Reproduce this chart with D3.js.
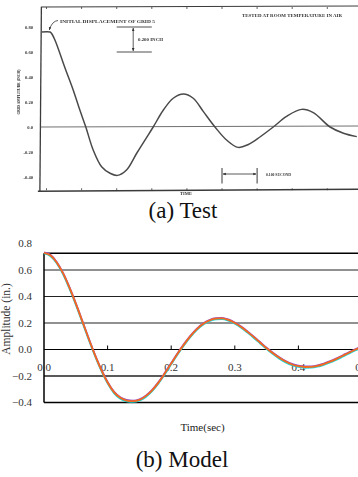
<!DOCTYPE html>
<html>
<head>
<meta charset="utf-8">
<script src="https://cdn.jsdelivr.net/npm/d3@7"></script>
<style>
  html, body { margin: 0; padding: 0; background: #fff; overflow: hidden; }
</style>
</head>
<body>
<script>
// ---- (a) Test: scanned record ----
const testTime = [-0.014, 0.010, 0.014, 0.024, 0.053, 0.076, 0.095, 0.112, 0.133, 0.157,
  0.181, 0.202, 0.228, 0.257, 0.285, 0.304, 0.333, 0.361, 0.390, 0.418,
  0.447, 0.480, 0.513, 0.546, 0.575, 0.608, 0.646, 0.684, 0.727, 0.760,
  0.808, 0.846, 0.884];
const testAmp = [0.760, 0.760, 0.750, 0.696, 0.470, 0.296, 0.136, 0.000, -0.184, -0.318,
  -0.370, -0.387, -0.344, -0.210, -0.085, 0.000, 0.136, 0.230, 0.264, 0.230,
  0.123, 0.000, -0.104, -0.163, -0.140, -0.080, 0.000, 0.085, 0.141, 0.115,
  0.000, -0.050, -0.077];
const testYTicks = [0.8, 0.6, 0.4, 0.2, 0, -0.2, -0.4];
const testYLabels = ['0.80', '0.60', '0.40', '0.20', '0.0', '-0.20', '-0.40'];
const testXTicks = [0, 0.1, 0.2, 0.3, 0.4, 0.5, 0.6, 0.7, 0.8, 0.9];
const inchBar = [0.6, 0.8];      // "0.200 INCH" bracket
const secondBar = [0.5, 0.6];    // "0.100 SECOND" bracket

// ---- (b) Model ----
const modelTime = [0.00, 0.01, 0.02, 0.03, 0.04, 0.05, 0.06, 0.07, 0.08, 0.09,
  0.10, 0.11, 0.12, 0.13, 0.14, 0.15, 0.16, 0.17, 0.18, 0.19,
  0.20, 0.21, 0.22, 0.23, 0.24, 0.25, 0.26, 0.27, 0.28, 0.29,
  0.30, 0.31, 0.32, 0.33, 0.34, 0.35, 0.36, 0.37, 0.38, 0.39,
  0.40, 0.41, 0.42, 0.43, 0.44, 0.45, 0.46, 0.47, 0.48, 0.49, 0.50];
const modelCyan = [0.726, 0.706, 0.651, 0.568, 0.460, 0.339, 0.209, 0.078, -0.047, -0.160,
  -0.256, -0.329, -0.371, -0.391, -0.396, -0.386, -0.358, -0.314, -0.256, -0.186,
  -0.112, -0.038, 0.031, 0.093, 0.146, 0.186, 0.213, 0.227, 0.229, 0.217,
  0.194, 0.164, 0.127, 0.087, 0.045, 0.003, -0.035, -0.069, -0.097, -0.119,
  -0.132, -0.138, -0.137, -0.130, -0.116, -0.098, -0.077, -0.053, -0.029, -0.006, 0.015];
const modelPurple = [0.733, 0.715, 0.661, 0.578, 0.471, 0.350, 0.220, 0.089, -0.036, -0.149,
  -0.245, -0.318, -0.361, -0.381, -0.386, -0.376, -0.348, -0.304, -0.246, -0.176,
  -0.102, -0.028, 0.041, 0.103, 0.156, 0.196, 0.223, 0.237, 0.239, 0.227,
  0.204, 0.174, 0.137, 0.097, 0.055, 0.013, -0.025, -0.059, -0.087, -0.109,
  -0.122, -0.128, -0.127, -0.120, -0.106, -0.088, -0.067, -0.043, -0.019, 0.004, 0.025];
const modelOrange = [0.730, 0.711, 0.657, 0.574, 0.467, 0.346, 0.216, 0.085, -0.040, -0.153,
  -0.249, -0.322, -0.365, -0.385, -0.390, -0.380, -0.352, -0.308, -0.250, -0.180,
  -0.106, -0.032, 0.037, 0.099, 0.152, 0.192, 0.219, 0.233, 0.235, 0.223,
  0.200, 0.170, 0.133, 0.093, 0.051, 0.009, -0.029, -0.063, -0.091, -0.113,
  -0.126, -0.132, -0.131, -0.124, -0.110, -0.092, -0.071, -0.047, -0.023, 0.000, 0.021];
const modelYTicks = [0.8, 0.6, 0.4, 0.2, 0.0, -0.2, -0.4];
const modelGrid = [0.6, 0.4, 0.2, 0.0, -0.2];
const modelXTicks = [0, 0.1, 0.2, 0.3, 0.4, 0.5];

const width = 358, height = 477;
const serif = '"Liberation Serif", "Times New Roman", serif';

const svg = d3.select('body').append('svg')
  .attr('width', width)
  .attr('height', height)
  .style('display', 'block');

const defs = svg.append('defs');
defs.append('filter').attr('id', 'scan')
  .attr('x', '-5%').attr('y', '-5%').attr('width', '110%').attr('height', '110%')
  .append('feGaussianBlur').attr('stdDeviation', 0.45);
defs.append('marker').attr('id', 'head')
  .attr('viewBox', '0 0 10 10').attr('refX', 9).attr('refY', 5)
  .attr('markerWidth', 4).attr('markerHeight', 4).attr('orient', 'auto-start-reverse')
  .append('path').attr('d', 'M0,1 L10,5 L0,9 Z').attr('fill', '#333');

// ================= (a) Test =================
const xT = d3.scaleLinear().domain([0, 0.9]).range([46.5, 362.4]);
const yT = d3.scaleLinear().domain([-0.4, 0.8]).range([177, 27]);
const ink = '#3a3a3a';
const gT = svg.append('g').attr('filter', 'url(#scan)');

const tLeft = xT(-0.016), tTop = yT(0.96), tBottom = yT(-0.51);

// frame (slightly skewed like the scan)
gT.append('line').attr('x1', tLeft + 0.5).attr('y1', tTop).attr('x2', tLeft - 1).attr('y2', tBottom + 0.5)
  .attr('stroke', ink).attr('stroke-width', 1.3);
gT.append('line').attr('x1', tLeft).attr('y1', tTop).attr('x2', width).attr('y2', tTop - 1)
  .attr('stroke', ink).attr('stroke-width', 1);
gT.append('line').attr('x1', tLeft - 3).attr('y1', tBottom + 0.5).attr('x2', width).attr('y2', tBottom - 1.5)
  .attr('stroke', ink).attr('stroke-width', 1.5);

gT.selectAll('.ttick').data(testXTicks).join('line')
  .attr('x1', d => xT(d)).attr('x2', d => xT(d))
  .attr('y1', tTop).attr('y2', tTop + 2)
  .attr('stroke', ink).attr('stroke-width', 0.8);
gT.selectAll('.btick').data(testXTicks).join('line')
  .attr('x1', d => xT(d)).attr('x2', d => xT(d))
  .attr('y1', tBottom - 0.5).attr('y2', tBottom - 2.5)
  .attr('stroke', ink).attr('stroke-width', 0.8);

// zero line
gT.append('line').attr('x1', tLeft).attr('x2', width)
  .attr('y1', yT(0)).attr('y2', yT(0) - 1)
  .attr('stroke', '#707070').attr('stroke-width', 1);

// y tick labels
gT.selectAll('.ylab').data(testYTicks).join('text')
  .attr('x', 33).attr('y', d => yT(d) + 1.7)
  .attr('text-anchor', 'end')
  .attr('font-family', serif).attr('font-weight', 'bold').attr('font-size', 4.6)
  .attr('fill', '#333')
  .text((d, i) => testYLabels[i]);

gT.append('text')
  .attr('transform', `translate(19.5,${yT(0.28)}) rotate(-90)`)
  .attr('text-anchor', 'middle')
  .attr('font-family', serif).attr('font-weight', 'bold').attr('font-size', 4.6)
  .attr('fill', '#333')
  .attr('textLength', 45).attr('lengthAdjust', 'spacingAndGlyphs')
  .text('GRID AMPLITUDE (INCH)');

// test curve
const lineT = d3.line()
  .x(i => xT(testTime[i]))
  .y(i => yT(testAmp[i]))
  .curve(d3.curveCatmullRom.alpha(0.5));
gT.append('path')
  .datum(d3.range(testTime.length))
  .attr('fill', 'none').attr('stroke', '#4a4a4a').attr('stroke-width', 1.5)
  .attr('d', lineT);

// annotations
const smallText = (x, y, len, s) => gT.append('text')
  .attr('x', x).attr('y', y)
  .attr('font-family', serif).attr('font-weight', 'bold').attr('font-size', 4.8)
  .attr('fill', '#333')
  .attr('textLength', len).attr('lengthAdjust', 'spacingAndGlyphs')
  .text(s);

smallText(60, 22.5, 95, 'INITIAL DISPLACEMENT OF GRID 5');
gT.append('path')
  .attr('d', `M58,20.5 Q52,21 ${xT(0.008)},${yT(0.76) - 2}`)
  .attr('fill', 'none').attr('stroke', '#333').attr('stroke-width', 0.8)
  .attr('marker-end', 'url(#head)');

smallText(242, 16.5, 100, 'TESTED AT ROOM TEMPERATURE IN AIR');

// 0.200 inch bracket
gT.selectAll('.ibar').data(inchBar).join('line')
  .attr('x1', xT(0.2)).attr('x2', xT(0.3))
  .attr('y1', d => yT(d)).attr('y2', d => yT(d))
  .attr('stroke', ink).attr('stroke-width', 0.9);
gT.append('line')
  .attr('x1', xT(0.247)).attr('x2', xT(0.247))
  .attr('y1', yT(inchBar[1]) + 1).attr('y2', yT(inchBar[0]) - 1)
  .attr('stroke', '#333').attr('stroke-width', 0.8)
  .attr('marker-start', 'url(#head)').attr('marker-end', 'url(#head)');
smallText(138, 40.5, 25, '0.200 INCH');

// 0.100 second bracket
gT.selectAll('.sbar').data(secondBar).join('line')
  .attr('x1', d => xT(d)).attr('x2', d => xT(d))
  .attr('y1', 168).attr('y2', 183.5)
  .attr('stroke', ink).attr('stroke-width', 1);
gT.append('line')
  .attr('x1', xT(secondBar[0]) + 1).attr('x2', xT(secondBar[1]) - 1)
  .attr('y1', 174).attr('y2', 174)
  .attr('stroke', '#333').attr('stroke-width', 0.8)
  .attr('marker-start', 'url(#head)').attr('marker-end', 'url(#head)');
smallText(266, 175.5, 25, '0.100 SECOND');

smallText(180, 195.2, 12, 'TIME');

svg.append('text')
  .attr('x', 183).attr('y', 218)
  .attr('text-anchor', 'middle')
  .attr('font-family', serif).attr('font-size', 23)
  .attr('fill', '#111')
  .text('(a) Test');

// ================= (b) Model =================
const xM = d3.scaleLinear().domain([0, 0.5]).range([44, 362]);
const yM = d3.scaleLinear().domain([-0.4, 0.8]).range([402.5, 243.5]);
const gM = svg.append('g');
const plotTopValue = 0.727;

gM.selectAll('.grid').data(modelGrid).join('line')
  .attr('x1', xM(0)).attr('x2', width)
  .attr('y1', d => yM(d)).attr('y2', d => yM(d))
  .attr('stroke', d => (d === 0 ? '#000' : '#222')).attr('stroke-width', d => (d === -0.2 ? 1.3 : 1));

// frame: top, bottom, left
gM.append('line').attr('x1', xM(0)).attr('x2', width)
  .attr('y1', yM(plotTopValue)).attr('y2', yM(plotTopValue))
  .attr('stroke', '#000').attr('stroke-width', 1.5);
gM.append('line').attr('x1', xM(0)).attr('x2', width)
  .attr('y1', yM(-0.4)).attr('y2', yM(-0.4))
  .attr('stroke', '#000').attr('stroke-width', 1.5);
gM.append('line').attr('x1', xM(0)).attr('x2', xM(0))
  .attr('y1', yM(plotTopValue)).attr('y2', yM(-0.4))
  .attr('stroke', '#000').attr('stroke-width', 1.5);

// x ticks on the zero line
gM.selectAll('.xt').data(modelXTicks.filter(d => d > 0)).join('line')
  .attr('x1', d => xM(d)).attr('x2', d => xM(d))
  .attr('y1', yM(0)).attr('y2', yM(0) - 4)
  .attr('stroke', '#000').attr('stroke-width', 1);

gM.selectAll('.xl').data(modelXTicks).join('text')
  .attr('x', d => xM(d)).attr('y', yM(0) + 21.5)
  .attr('text-anchor', 'middle')
  .attr('font-family', serif).attr('font-size', 11)
  .attr('fill', '#333')
  .text(d => d3.format('.1f')(d));

gM.selectAll('.yl').data(modelYTicks).join('text')
  .attr('x', 32).attr('y', d => yM(d) + 3.8)
  .attr('text-anchor', 'end')
  .attr('font-family', serif).attr('font-size', 11)
  .attr('fill', '#333')
  .text(d => d3.format('.1f')(d));

gM.append('text')
  .attr('transform', 'translate(9.5,319) rotate(-90)')
  .attr('text-anchor', 'middle')
  .attr('font-family', serif).attr('font-size', 11.5)
  .attr('fill', '#333')
  .text('Amplitude (in.)');

const lineM = vals => d3.line()
  .x((d, i) => xM(modelTime[i]))
  .y(d => yM(d))
  .curve(d3.curveMonotoneX)(vals);

[[modelCyan, '#19d6d6'], [modelPurple, '#9a4cc0'], [modelOrange, '#f26a1f']].forEach(([vals, c]) => {
  gM.append('path')
    .attr('fill', 'none').attr('stroke', c).attr('stroke-width', 1.8)
    .attr('d', lineM(vals));
});

svg.append('text')
  .attr('x', 202.5).attr('y', 431)
  .attr('text-anchor', 'middle')
  .attr('font-family', serif).attr('font-size', 11)
  .attr('fill', '#222')
  .text('Time(sec)');

svg.append('text')
  .attr('x', 182).attr('y', 467)
  .attr('text-anchor', 'middle')
  .attr('font-family', serif).attr('font-size', 23)
  .attr('fill', '#111')
  .text('(b) Model');
</script>
</body>
</html>
